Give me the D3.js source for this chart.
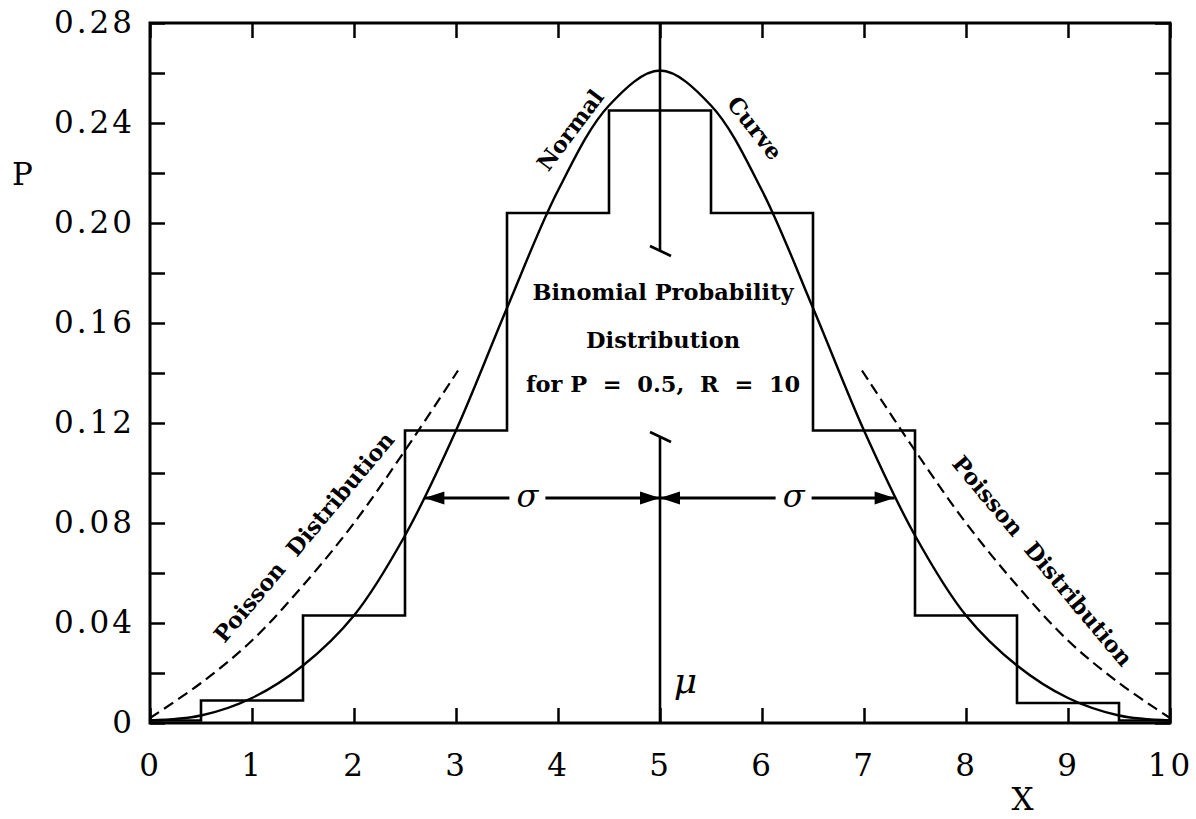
<!DOCTYPE html>
<html>
<head>
<meta charset="utf-8">
<script src="https://d3js.org/d3.v7.min.js"></script>
<style>
body { margin: 0; background: #fff; }
.tick-label, .axis text {
  font-family: 'DejaVu Serif', serif;
  font-size: 31px;
  letter-spacing: 3px;
  fill: #000;
}
.note {
  font-family: 'DejaVu Serif', serif;
  font-weight: bold;
  font-size: 22.5px;
  fill: #000;
  white-space: pre;
}
.greek {
  font-family: 'DejaVu Serif', serif;
  font-style: italic;
  fill: #000;
}
</style>
</head>
<body>
<svg id="chart" width="1196" height="819"></svg>
<script>
// binomial probabilities for k = 0..10
var binomX = [0, 1, 2, 3, 4, 5, 6, 7, 8, 9, 10];
var binomP = [0.001, 0.009, 0.043, 0.117, 0.204, 0.245, 0.204, 0.117, 0.043, 0.008, 0.001];

// normal curve, read every half unit
var normalX = [0, 0.5, 1, 1.5, 2, 2.5, 3, 3.5, 4, 4.5, 5, 5.5, 6, 6.5, 7, 7.5, 8, 8.5, 9, 9.5, 10];
var normalP = [0.001, 0.003, 0.010, 0.023, 0.043, 0.075, 0.117, 0.166, 0.213, 0.247, 0.261,
               0.247, 0.213, 0.166, 0.117, 0.075, 0.043, 0.023, 0.010, 0.003, 0.001];

// dashed poisson pieces on each side
var poissonLeftX = [0, 0.5, 1, 1.5, 2, 2.5, 3.02];
var poissonLeftP = [0.002, 0.016, 0.033, 0.055, 0.080, 0.109, 0.141];
var poissonRightX = [6.98, 7.5, 8, 8.5, 9, 9.5, 10];
var poissonRightP = [0.141, 0.109, 0.080, 0.055, 0.033, 0.016, 0.002];

// ticks
var xTicks = [0, 1, 2, 3, 4, 5, 6, 7, 8, 9, 10];
var xTickLabels = ["0", "1", "2", "3", "4", "5", "6", "7", "8", "9", "10"];
var yTicks = [0, 0.04, 0.08, 0.12, 0.16, 0.20, 0.24, 0.28];
var yTickLabels = ["0", "0.04", "0.08", "0.12", "0.16", "0.20", "0.24", "0.28"];
var yMinorTicks = [0.02, 0.06, 0.10, 0.14, 0.18, 0.22, 0.26];

// mean line and sigma arrows
var mu = 5;
var muBreak = [0.1888, 0.1144];
var sigmaY = 0.09;
var sigmaEnds = [2.69, 7.3];
var sigmaLabelX = [3.7, 6.31];

var svg = d3.select("#chart");

var x = d3.scaleLinear().domain([0, 10]).range([150, 1170]);
var y = d3.scaleLinear().domain([0, 0.28]).range([723, 23]);

var tickLen = 15;

// arrow head marker
var defs = svg.append("defs");
defs.append("marker")
  .attr("id", "head")
  .attr("markerUnits", "userSpaceOnUse")
  .attr("markerWidth", 24).attr("markerHeight", 16)
  .attr("viewBox", "-22 -8 24 16")
  .attr("refX", 0).attr("refY", 0)
  .attr("orient", "auto")
  .append("path")
  .attr("d", "M0,0 L-20,-6.5 L-20,6.5 Z")
  .attr("fill", "#000");

// axes: ticks on all four sides
var allY = yTicks.concat(yMinorTicks).sort(d3.ascending);

var bottom = svg.append("g").attr("class", "axis")
  .attr("transform", "translate(0," + y(0) + ")")
  .call(d3.axisBottom(x).tickValues(xTicks)
    .tickFormat(function(d, i) { return xTickLabels[i]; })
    .tickSize(-tickLen).tickPadding(31));
svg.append("g").attr("class", "axis")
  .attr("transform", "translate(0," + y(0.28) + ")")
  .call(d3.axisTop(x).tickValues(xTicks).tickFormat("").tickSize(-tickLen));
svg.append("g").attr("class", "axis")
  .attr("transform", "translate(" + x(0) + ",0)")
  .call(d3.axisLeft(y).tickValues(allY)
    .tickFormat(function(d) {
      var i = yTicks.findIndex(function(t) { return Math.abs(t - d) < 1e-9; });
      return i >= 0 ? yTickLabels[i] : "";
    })
    .tickSize(-tickLen).tickPadding(15));
svg.append("g").attr("class", "axis")
  .attr("transform", "translate(" + x(10) + ",0)")
  .call(d3.axisRight(y).tickValues(allY).tickFormat("").tickSize(-tickLen));

svg.selectAll(".axis .domain").remove();
svg.selectAll(".axis line").attr("stroke", "#000").attr("stroke-width", 2.5);
bottom.selectAll("text").attr("dy", "0.71em");

// frame
svg.append("rect")
  .attr("x", x(0)).attr("y", y(0.28))
  .attr("width", x(10) - x(0)).attr("height", y(0) - y(0.28))
  .attr("fill", "none").attr("stroke", "#000").attr("stroke-width", 3);

// axis titles
svg.append("text").attr("class", "tick-label")
  .attr("x", 24).attr("y", 185).attr("text-anchor", "middle").text("P");
svg.append("text").attr("class", "tick-label")
  .attr("x", 1024).attr("y", 810).attr("text-anchor", "middle").text("X");

// histogram
var step = d3.line()
  .x(function(d) { return x(d[0]); })
  .y(function(d) { return y(d[1]); })
  .curve(d3.curveStep);
svg.append("path")
  .attr("d", step(d3.zip(binomX, binomP)))
  .attr("fill", "none").attr("stroke", "#000").attr("stroke-width", 2.6);

// normal curve
var smooth = d3.line()
  .x(function(d) { return x(d[0]); })
  .y(function(d) { return y(d[1]); })
  .curve(d3.curveCatmullRom);
svg.append("path")
  .attr("d", smooth(d3.zip(normalX, normalP)))
  .attr("fill", "none").attr("stroke", "#000").attr("stroke-width", 2.4);

// poisson dashed
[[poissonLeftX, poissonLeftP], [poissonRightX, poissonRightP]].forEach(function(s) {
  svg.append("path")
    .attr("d", smooth(d3.zip(s[0], s[1])))
    .attr("fill", "none").attr("stroke", "#000").attr("stroke-width", 2.2)
    .attr("stroke-dasharray", "11,6");
});

// mean line with break marks
svg.append("line")
  .attr("x1", x(mu)).attr("x2", x(mu))
  .attr("y1", y(0.28)).attr("y2", y(muBreak[0]))
  .attr("stroke", "#000").attr("stroke-width", 2.6);
svg.append("line")
  .attr("x1", x(mu)).attr("x2", x(mu))
  .attr("y1", y(muBreak[1])).attr("y2", y(0))
  .attr("stroke", "#000").attr("stroke-width", 2.6);
muBreak.forEach(function(b) {
  svg.append("line")
    .attr("x1", x(mu) - 10).attr("y1", y(b) - 5)
    .attr("x2", x(mu) + 11).attr("y2", y(b) + 5)
    .attr("stroke", "#000").attr("stroke-width", 2.6);
});

// sigma arrows, each piece drawn from the label gap outwards
var gap = 18;
function arrowSeg(from, to) {
  svg.append("line")
    .attr("x1", from).attr("x2", to)
    .attr("y1", y(sigmaY)).attr("y2", y(sigmaY))
    .attr("stroke", "#000").attr("stroke-width", 3)
    .attr("marker-end", "url(#head)");
}
arrowSeg(x(sigmaLabelX[0]) - gap, x(sigmaEnds[0]));
arrowSeg(x(sigmaLabelX[0]) + gap, x(mu));
arrowSeg(x(sigmaLabelX[1]) - gap, x(mu));
arrowSeg(x(sigmaLabelX[1]) + gap, x(sigmaEnds[1]));

sigmaLabelX.forEach(function(sx) {
  svg.append("text").attr("class", "greek")
    .attr("x", x(sx)).attr("y", y(sigmaY) + 9)
    .attr("text-anchor", "middle")
    .style("font-size", "32px")
    .text("σ");
});

svg.append("text").attr("class", "greek")
  .attr("x", x(5.25)).attr("y", y(0.012))
  .attr("text-anchor", "middle")
  .style("font-size", "36px")
  .text("μ");

// annotations
var noteLines = [
  { t: "Binomial Probability", x: 5.03, p: 0.1692 },
  { t: "Distribution", x: 5.03, p: 0.150 },
  { t: "for P  =  0.5,  R  =  10", x: 5.03, p: 0.1324 }
];
noteLines.forEach(function(n) {
  svg.append("text").attr("class", "note")
    .attr("x", x(n.x)).attr("y", y(n.p))
    .attr("text-anchor", "middle")
    .text(n.t);
});

var rotated = [
  { t: "Normal", x: 4.12, p: 0.2372, a: -53 },
  { t: "Curve", x: 5.93, p: 0.238, a: 52 },
  { t: "Poisson  Distribution", x: 1.51, p: 0.0744, a: -50 },
  { t: "Poisson  Distribution", x: 8.75, p: 0.0648, a: 50 }
];
rotated.forEach(function(r) {
  svg.append("text").attr("class", "note")
    .attr("transform", "translate(" + x(r.x) + "," + y(r.p) + ") rotate(" + r.a + ")")
    .attr("text-anchor", "middle")
    .attr("dy", "0.35em")
    .text(r.t);
});
</script>
</body>
</html>
